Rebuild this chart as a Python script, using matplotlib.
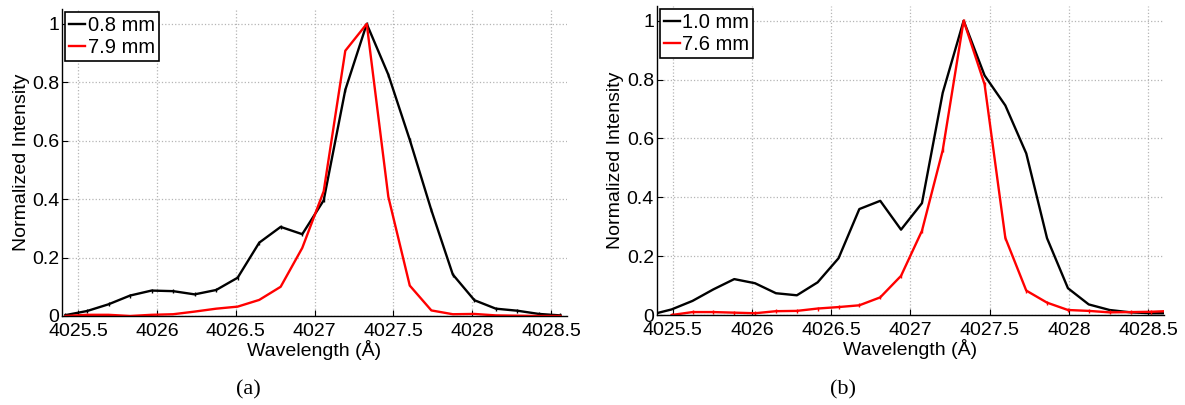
import matplotlib
matplotlib.use("Agg")
import matplotlib.pyplot as plt
import numpy as np
from matplotlib.ticker import FormatStrFormatter

plt.rcParams['font.family'] = ['Liberation Sans', 'DejaVu Sans']

# panel (a)
wl_a = [4025.420, 4025.557, 4025.693, 4025.830, 4025.966, 4026.103, 4026.239, 4026.376,
        4026.512, 4026.649, 4026.785, 4026.922, 4027.058, 4027.195, 4027.331, 4027.468,
        4027.604, 4027.741, 4027.877, 4028.014, 4028.150, 4028.287, 4028.423, 4028.560]
near_a = [0.003, 0.017, 0.040, 0.070, 0.087, 0.085, 0.074, 0.089, 0.131, 0.251, 0.305, 0.280,
          0.396, 0.774, 1.000, 0.826, 0.603, 0.362, 0.142, 0.054, 0.025, 0.018, 0.007, 0.002]
far_a = [0.000, 0.004, 0.004, 0.000, 0.004, 0.006, 0.015, 0.025, 0.032, 0.055, 0.100, 0.233,
         0.427, 0.908, 1.000, 0.408, 0.104, 0.019, 0.006, 0.007, 0.002, 0.001, 0.000, 0.000]

# panel (b)
wl_b = [4025.362, 4025.494, 4025.626, 4025.757, 4025.889, 4026.020, 4026.152, 4026.284,
        4026.415, 4026.547, 4026.678, 4026.810, 4026.941, 4027.073, 4027.204, 4027.336,
        4027.468, 4027.599, 4027.731, 4027.862, 4027.994, 4028.125, 4028.257, 4028.389,
        4028.520, 4028.652]
near_b = [0.001, 0.019, 0.048, 0.087, 0.122, 0.108, 0.074, 0.067, 0.111, 0.193, 0.360, 0.388,
          0.290, 0.380, 0.755, 1.000, 0.814, 0.712, 0.549, 0.261, 0.091, 0.036, 0.017, 0.009,
          0.006, 0.006]
far_b = [np.nan, 0.000, 0.010, 0.010, 0.008, 0.006, 0.013, 0.014, 0.022, 0.027, 0.033, 0.060,
         0.133, 0.286, 0.560, 1.000, 0.784, 0.262, 0.083, 0.042, 0.017, 0.014, 0.009, 0.010,
         0.011, 0.014]

labels_a = ['0.8 mm', '7.9 mm']
labels_b = ['1.0 mm', '7.6 mm']
xticks = [4025.5, 4026, 4026.5, 4027, 4027.5, 4028, 4028.5]
yticks = [0, 0.2, 0.4, 0.6, 0.8, 1]

fig = plt.figure(figsize=(11.85, 4.05), dpi=100)
ax1 = fig.add_axes([0.0526, 0.2198, 0.4257, 0.7573])
ax2 = fig.add_axes([0.5542, 0.2222, 0.4281, 0.7630])


def panel(ax, wl, near, far, labels, mark_near, mark_far):
    ax.plot(wl, near, color='black', lw=1.7, label=labels[0],
            marker='|' if mark_near else None, ms=3, mew=1.0)
    ax.plot(wl, far, color='#ff0000', lw=1.7, label=labels[1],
            marker='|' if mark_far else None, ms=3, mew=1.0)
    ax.set_xlim(4025.4, 4028.6)
    ax.set_ylim(0, 1.05)
    ax.set_xticks(xticks)
    ax.set_yticks(yticks)
    ax.xaxis.set_major_formatter(FormatStrFormatter('%g'))
    ax.yaxis.set_major_formatter(FormatStrFormatter('%g'))
    ax.grid(True, linestyle=':', color='#b5b5b5', lw=0.9)
    ax.set_axisbelow(True)
    for s in ['top', 'right']:
        ax.spines[s].set_visible(False)
    for s in ['left', 'bottom']:
        ax.spines[s].set_linewidth(1.0)
    ax.tick_params(direction='in', length=4, labelsize=14)
    ax.tick_params(axis='x', pad=5)
    ax.tick_params(axis='y', pad=2)
    ax.set_xlabel('Wavelength (Å)', fontsize=14)
    ax.set_ylabel('Normalized Intensity', fontsize=14)
    ax.xaxis.set_label_coords(0.5, -0.078)
    ax.yaxis.set_label_coords(-0.064, 0.5)
    leg = ax.legend(loc='upper left', bbox_to_anchor=(0, 1), borderaxespad=0.15,
                    fontsize=14.5, handlelength=0.8, handletextpad=0.1,
                    labelspacing=0.15, borderpad=0.2, fancybox=False, framealpha=1)
    leg.get_frame().set_edgecolor('black')
    leg.get_frame().set_linewidth(1.2)
    for h in leg.legend_handles:
        h.set_marker('')


panel(ax1, wl_a, near_a, far_a, labels_a, True, False)
panel(ax2, wl_b, near_b, far_b, labels_b, False, True)

fig.text(248 / 1185, 0.037, '(a)', family=['Liberation Serif', 'DejaVu Serif'],
         fontsize=16, ha='center', va='center')
fig.text(843 / 1185, 0.037, '(b)', family=['Liberation Serif', 'DejaVu Serif'],
         fontsize=16, ha='center', va='center')

fig.savefig('out.png', dpi=100)
plt.close(fig)
